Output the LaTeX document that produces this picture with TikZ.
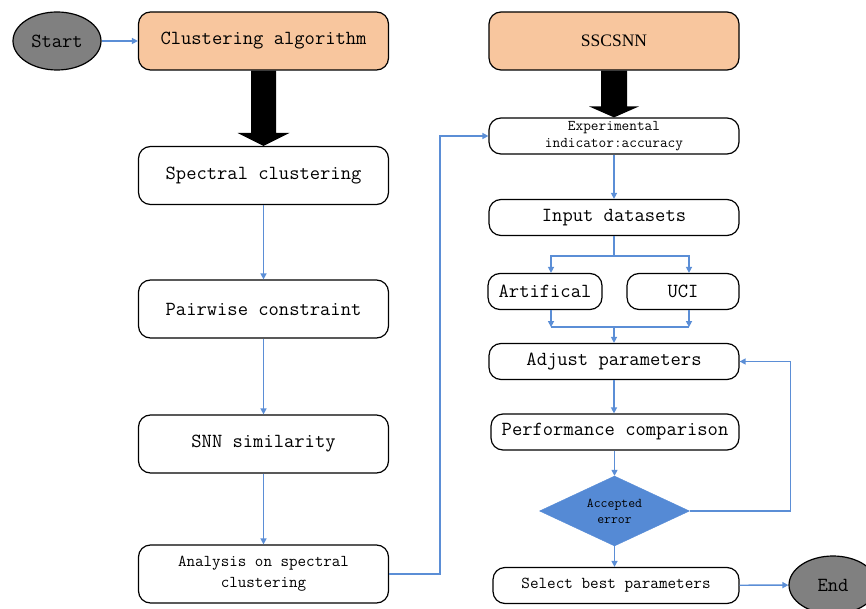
\documentclass[tikz,border=0pt]{standalone}
\usepackage{fontspec}
\newfontfamily\timesfont{Liberation Serif}
\usetikzlibrary{arrows.meta,shapes.geometric,calc}

\definecolor{flowblue}{RGB}{91,142,214}
\definecolor{headorange}{RGB}{248,198,158}
\definecolor{termgray}{RGB}{128,128,128}
\definecolor{decblue}{RGB}{85,138,213}

\begin{document}
\begin{tikzpicture}[x=1pt,y=-1pt,
    box/.style={draw,rounded corners=12pt,line width=1.2pt,minimum width=250pt,
      minimum height=58pt,inner sep=1pt,align=center,
      font=\ttfamily\fontsize{20}{22}\selectfont},
    sbox/.style={box,minimum height=36pt},
    head/.style={box,fill=headorange},
    term/.style={draw,ellipse,fill=termgray,line width=1.2pt,minimum width=88pt,
      minimum height=58pt,font=\ttfamily\fontsize{20}{22}\selectfont},
    decide/.style={draw=decblue,diamond,fill=decblue,aspect=2,inner sep=0pt,
      minimum width=150pt,minimum height=70pt,align=center,
      font=\ttfamily\fontsize{13.4}{16}\selectfont},
    flow/.style={draw=flowblue,line width=1.4pt,-{Triangle[length=6pt,width=6pt]}},
    link/.style={draw=flowblue,line width=1.4pt}]
  \useasboundingbox (0,0) rectangle (866,609);
  % left column
  \node[term] (start) at (57,41) {Start};
  \node[head] (clu) at (263.5,41) {Clustering algorithm};
  \node[box] (spec) at (263.5,175.5) {Spectral clustering};
  \node[box] (pair) at (263.5,309) {Pairwise constraint};
  \node[box] (snn) at (263.5,444) {SNN similarity};
  \node[box,font=\ttfamily\fontsize{16.6}{21}\selectfont] (ana) at (263.5,574)
    {Analysis on spectral\\clustering};
  % right column
  \node[head,font=\timesfont\fontsize{17.5}{20}\selectfont] (ssc) at (614,41) {SSCSNN};
  \node[sbox,font=\ttfamily\fontsize{14.9}{17}\selectfont] (exp) at (614,136)
    {Experimental\\indicator:accuracy};
  \node[sbox] (inp) at (614,217.5) {Input datasets};
  \node[sbox,minimum width=114pt] (art) at (545,291.5) {Artifical};
  \node[sbox,minimum width=112pt] (uci) at (683,291.5) {UCI};
  \node[sbox] (adj) at (614,361.5) {Adjust parameters};
  \node[sbox,minimum width=248pt] (perf) at (615,432) {Performance comparison};
  \node[decide] (dec) at (614.5,511) {Accepted\\error};
  \node[sbox,minimum width=246pt,font=\ttfamily\fontsize{16.7}{20}\selectfont] (sel)
    at (616,585.5) {Select best parameters};
  \node[term] (end) at (833,585) {End};
  % big black arrows
  \fill ($(clu.south)+(-12.5,0)$) -- ($(clu.south)+(12.5,0)$)
    -- ($(spec.north)+(12.5,-13)$) -- ($(spec.north)+(26,-13)$) -- (spec.north)
    -- ($(spec.north)+(-26,-13)$) -- ($(spec.north)+(-12.5,-13)$) -- cycle;
  \fill ($(ssc.south)+(-13,0)$) -- ($(ssc.south)+(13,0)$)
    -- ($(exp.north)+(13,-11)$) -- ($(exp.north)+(25,-11)$) -- (exp.north)
    -- ($(exp.north)+(-25,-11)$) -- ($(exp.north)+(-13,-11)$) -- cycle;
  % blue connectors
  \draw[flow] (start) -- (clu);
  \draw[flow] (spec) -- (pair);
  \draw[flow] (pair) -- (snn);
  \draw[flow] (snn) -- (ana);
  \draw[flow] (ana.east) -- ++(51,0) |- (exp.west);
  \draw[flow] (exp) -- (inp);
  \coordinate (split) at (614,256);
  \draw[link] (inp.south) -- (split);
  \draw[flow] (split) -| ($(art.north)+(6,0)$);
  \draw[flow] (split) -| ($(uci.north)+(6,0)$);
  \draw[flow] ($(art.south)+(6,0)$) -- ($(art.south)+(6,17)$);
  \draw[flow] ($(uci.south)+(6,0)$) -- ($(uci.south)+(6,17)$);
  \draw[link] ($(art.south)+(6,17)$) -- ($(uci.south)+(6,17)$);
  \coordinate (merge) at (614,327);
  \draw[flow] (merge) -- (adj.north);
  \draw[flow] (adj) -- (adj |- perf.north);
  \draw[flow] (perf.south -| dec.north) -- (dec.north);
  \draw[flow] (dec.south) -- (dec.south |- sel.north);
  \draw[flow] (dec.east) -- ++(101,0) |- (adj.east);
  \draw[flow] (sel) -- (end);
\end{tikzpicture}
\end{document}
